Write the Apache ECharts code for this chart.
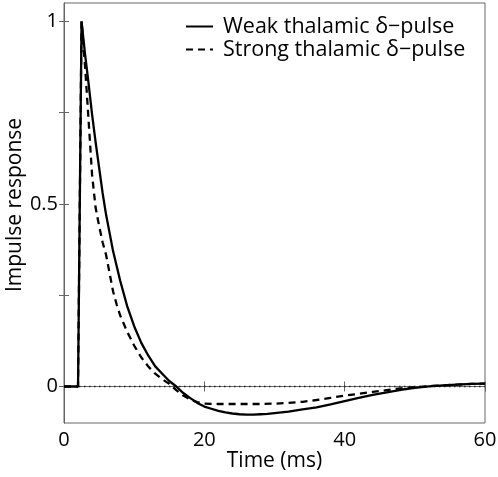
<!DOCTYPE html>
<html>
<head>
<meta charset="utf-8">
<script src="https://cdn.jsdelivr.net/npm/echarts@6/dist/echarts.min.js"></script>
<style>html,body{margin:0;padding:0;background:#fff}#c{width:498px;height:477px}</style>
</head>
<body>
<div id="c"></div>
<script>
// Data
const weakT = [0, 2, 2.5, 3, 3.5, 4, 4.5, 5, 5.5, 6, 7, 8, 9, 10, 11, 12, 13, 14, 15, 16, 17, 18, 19, 20, 21, 22, 23, 24, 25, 26, 27, 28, 29, 30, 32, 34, 36, 38, 40, 42, 44, 46, 48, 50, 52, 54, 56, 58, 60];
const weakY = [0, 0, 1, 0.91, 0.83, 0.745, 0.67, 0.6, 0.53, 0.47, 0.37, 0.29, 0.22, 0.165, 0.12, 0.085, 0.055, 0.035, 0.015, 0.0, -0.018, -0.032, -0.045, -0.055, -0.061, -0.067, -0.071, -0.074, -0.076, -0.077, -0.077, -0.076, -0.075, -0.073, -0.069, -0.063, -0.057, -0.049, -0.040, -0.031, -0.023, -0.016, -0.009, -0.004, 0.0, 0.003, 0.005, 0.007, 0.008];
const strongT = [0, 2, 2.5, 3, 3.5, 4, 4.5, 5, 5.5, 6, 7, 7.5, 8, 9, 10, 11, 12, 13, 14, 15, 16, 17, 18, 19, 20, 22, 24, 26, 28, 30, 32, 34, 36, 38, 40, 42, 44, 46, 48, 50, 52, 54, 56, 58, 60];
const strongY = [0, 0, 1, 0.877, 0.73, 0.58, 0.49, 0.44, 0.395, 0.36, 0.26, 0.225, 0.195, 0.15, 0.112, 0.08, 0.055, 0.035, 0.02, 0.007, -0.01, -0.025, -0.036, -0.043, -0.047, -0.048, -0.048, -0.048, -0.048, -0.047, -0.045, -0.042, -0.037, -0.031, -0.025, -0.02, -0.015, -0.01, -0.005, -0.002, 0.001, 0.003, 0.005, 0.007, 0.008];
const seriesNames = ['Weak thalamic δ−pulse', 'Strong thalamic δ−pulse'];
const xTicks = [0, 20, 40, 60];
const yTicks = [0, 0.25, 0.5, 0.75, 1];
const yLabels = [0, 0.5, 1];
const xRange = [0, 60];
const yRange = [-0.1, 1.05];
const zeroLevel = 0;

const FONT = 'Open Sans';
const AX = '#666';
const zip = (a, b) => a.map((v, i) => [v, b[i]]);

const chart = echarts.init(document.getElementById('c'));
chart.setOption({
  animation: false,
  textStyle: { fontFamily: FONT },
  grid: { left: 64, right: 13, top: 3, bottom: 54, show: true, borderColor: AX, borderWidth: 1,
          containLabel: false, outerBoundsMode: 'none' },
  legend: {
    orient: 'vertical', left: 180, top: 10, itemWidth: 27, itemHeight: 12, itemGap: 0,
    itemStyle: { opacity: 0 },
    textStyle: { fontFamily: FONT, fontSize: 21.5, lineHeight: 23, color: '#000', padding: [0, 0, 0, 5] },
    data: seriesNames
  },
  xAxis: [{
    type: 'value', min: xRange[0], max: xRange[1], interval: 20,
    name: 'Time (ms)', nameLocation: 'middle', nameGap: 28, nameMoveOverlap: false,
    nameTextStyle: { fontFamily: FONT, fontSize: 21, color: '#000' },
    axisLine: { show: true, lineStyle: { color: AX } },
    axisTick: { inside: true, length: 5, lineStyle: { color: AX } },
    axisLabel: { fontFamily: FONT, fontSize: 20, color: '#000', margin: 7 },
    splitLine: { show: false }
  }, {
    type: 'value', position: 'top', min: xRange[0], max: xRange[1], interval: 20,
    axisLine: { show: true, lineStyle: { color: AX } },
    axisTick: { inside: true, length: 5, lineStyle: { color: AX } },
    axisLabel: { show: false }, splitLine: { show: false }
  }],
  yAxis: [{
    type: 'value', min: yRange[0], max: yRange[1],
    name: 'Impulse response', nameLocation: 'middle', nameGap: 38, nameMoveOverlap: false,
    nameTextStyle: { fontFamily: FONT, fontSize: 21, color: '#000', padding: [0, 0, 0, 16] },
    axisLine: { show: true, lineStyle: { color: AX } },
    axisTick: { inside: true, length: 5, lineStyle: { color: AX }, customValues: yTicks },
    axisLabel: { fontFamily: FONT, fontSize: 20, color: '#000', margin: 6, customValues: yLabels },
    splitLine: { show: false }
  }, {
    type: 'value', position: 'right', min: yRange[0], max: yRange[1],
    axisLine: { show: true, lineStyle: { color: AX } },
    axisTick: { inside: true, length: 5, lineStyle: { color: AX }, customValues: yTicks },
    axisLabel: { show: false }, splitLine: { show: false }
  }],
  series: [{
    name: 'zero', type: 'line', data: [[xRange[0], zeroLevel], [xRange[1], zeroLevel]],
    showSymbol: false, symbol: 'none', z: 1, silent: true,
    lineStyle: { color: '#222', width: 1.5, type: [1.5, 3.5] }
  }, {
    name: seriesNames[0], type: 'line', data: zip(weakT, weakY), smooth: false,
    showSymbol: false, symbol: 'none', z: 3,
    lineStyle: { color: '#000', width: 2.3, type: 'solid' },
    itemStyle: { color: '#000' }
  }, {
    name: seriesNames[1], type: 'line', data: zip(strongT, strongY), smooth: false,
    showSymbol: false, symbol: 'none', z: 2,
    lineStyle: { color: '#000', width: 2.3, type: [7, 5] },
    itemStyle: { color: '#000' }
  }]
});
</script>
</body>
</html>
